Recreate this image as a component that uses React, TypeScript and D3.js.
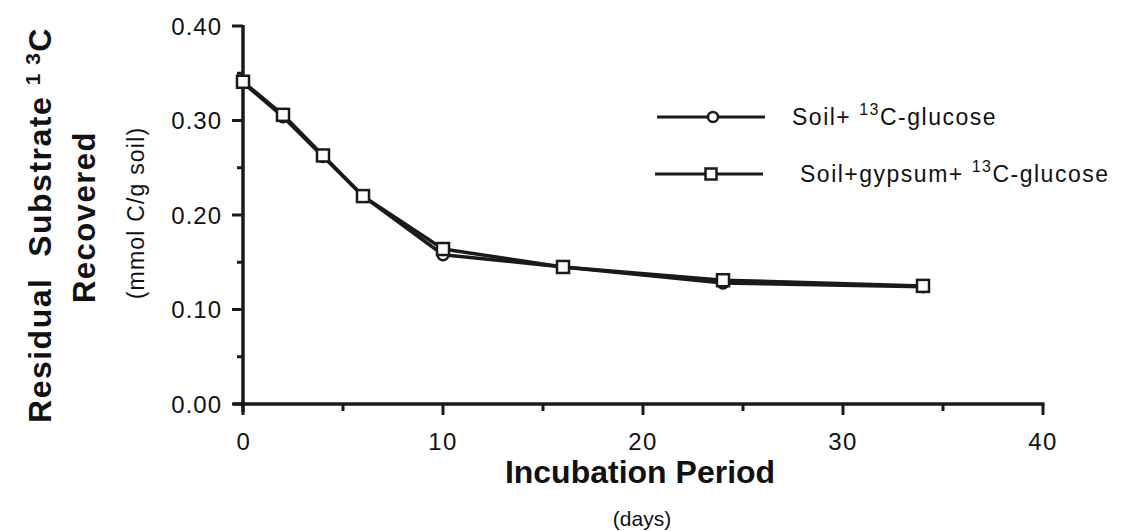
import React from "react";
import * as d3 from "d3";

const days = [0, 2, 4, 6, 10, 16, 24, 34];
const soilGlucose = [0.340, 0.304, 0.262, 0.220, 0.158, 0.145, 0.128, 0.124];
const soilGypsumGlucose = [0.341, 0.306, 0.263, 0.220, 0.164, 0.145, 0.131, 0.125];
const xTicks = [0, 10, 20, 30, 40];
const xMinorTicks = [5, 15, 25, 35];
const yTicks = [0, 0.1, 0.2, 0.3, 0.4];
const yMinorTicks = [0.05, 0.15, 0.25, 0.35];

const FONT = "'Liberation Sans', Arial, Helvetica, sans-serif";
const INK = "#1a1a1a";

export default function App() {
  const x = d3.scaleLinear().domain([0, 40]).range([243, 1043]);
  const y = d3.scaleLinear().domain([0, 0.4]).range([404, 26]);
  const line = d3
    .line<number>()
    .x((_, i) => x(days[i]))
    .y((v) => y(v));

  return (
    <svg
      width={1132}
      height={531}
      style={{ position: "absolute", left: 0, top: 0, background: "#fff" }}
      fontFamily={FONT}
    >
      {/* axes */}
      <line x1={x(0)} x2={x(0)} y1={y(0.4) - 1} y2={y(0) + 8} stroke={INK} strokeWidth={3.5} />
      <line x1={x(0) - 10} x2={x(40) + 1.5} y1={y(0)} y2={y(0)} stroke={INK} strokeWidth={3.5} />
      {yTicks.map((t) => (
        <g key={"yt" + t}>
          <line x1={x(0) - 11} x2={x(0)} y1={y(t)} y2={y(t)} stroke={INK} strokeWidth={3} />
          <text
            x={222}
            y={y(t) + 8.5}
            textAnchor="end"
            fontSize={24}
            letterSpacing={1}
            fill="#111"
          >
            {t.toFixed(2)}
          </text>
        </g>
      ))}
      {yMinorTicks.map((t) => (
        <line key={"ym" + t} x1={x(0) - 6} x2={x(0)} y1={y(t)} y2={y(t)} stroke={INK} strokeWidth={3} />
      ))}
      {xTicks.map((t) => (
        <g key={"xt" + t}>
          <line x1={x(t)} x2={x(t)} y1={y(0)} y2={y(0) + 11} stroke={INK} strokeWidth={3} />
          <text
            x={x(t) + (t === 0 ? 1 : 0)}
            y={450}
            textAnchor="middle"
            fontSize={24}
            letterSpacing={1.5}
            fill="#111"
          >
            {t}
          </text>
        </g>
      ))}
      {xMinorTicks.map((t) => (
        <line key={"xm" + t} x1={x(t)} x2={x(t)} y1={y(0)} y2={y(0) + 7} stroke={INK} strokeWidth={3} />
      ))}

      {/* series lines */}
      <path d={line(soilGlucose) || ""} fill="none" stroke={INK} strokeWidth={3.5} strokeLinejoin="round" />
      <path d={line(soilGypsumGlucose) || ""} fill="none" stroke={INK} strokeWidth={3.5} strokeLinejoin="round" />
      {soilGlucose.map((v, i) => (
        <circle key={"c" + i} cx={x(days[i])} cy={y(v)} r={5.5} fill="#fff" stroke={INK} strokeWidth={2.5} />
      ))}
      {soilGypsumGlucose.map((v, i) => (
        <rect
          key={"s" + i}
          x={x(days[i]) - 6}
          y={y(v) - 6}
          width={12}
          height={12}
          fill="#fff"
          stroke={INK}
          strokeWidth={2.5}
        />
      ))}

      {/* legend */}
      <line x1={657} x2={765} y1={117} y2={117} stroke={INK} strokeWidth={3} />
      <circle cx={713} cy={117} r={5} fill="#fff" stroke={INK} strokeWidth={2.5} />
      <text x={792} y={125} fontSize={23} letterSpacing={1.5} fill="#111">
        Soil+{" "}
        <tspan fontSize={16} dy={-10}>13</tspan>
        <tspan dy={10}>C-glucose</tspan>
      </text>
      <line x1={655} x2={763} y1={174} y2={174} stroke={INK} strokeWidth={3} />
      <rect x={705.5} y={168.5} width={11} height={11} fill="#fff" stroke={INK} strokeWidth={2.5} />
      <text x={800} y={182} fontSize={23} letterSpacing={1.5} fill="#111">
        Soil+gypsum+{" "}
        <tspan fontSize={16} dy={-10}>13</tspan>
        <tspan dy={10}>C-glucose</tspan>
      </text>

      {/* y axis titles */}
      <text
        transform="translate(51,225) rotate(-90)"
        textAnchor="middle"
        fontSize={32}
        fontWeight="bold"
        letterSpacing={1.5}
        fill="#111"
        xmlSpace="preserve"
      >
        {"Residual  Substrate "}
        <tspan fontSize={21} dy={-11}>1 3</tspan>
        <tspan dy={11}>C</tspan>
      </text>
      <text
        transform="translate(95,217) rotate(-90)"
        textAnchor="middle"
        fontSize={31}
        fontWeight="bold"
        letterSpacing={1.5}
        fill="#111"
      >
        Recovered
      </text>
      <text
        transform="translate(144,213) rotate(-90)"
        textAnchor="middle"
        fontSize={23}
        letterSpacing={1.2}
        fill="#111"
      >
        (mmol C/g soil)
      </text>

      {/* x axis titles */}
      <text x={640} y={483} textAnchor="middle" fontSize={32} fontWeight="bold" fill="#111">
        Incubation Period
      </text>
      <text x={642} y={526} textAnchor="middle" fontSize={21} fill="#111">
        (days)
      </text>
    </svg>
  );
}
